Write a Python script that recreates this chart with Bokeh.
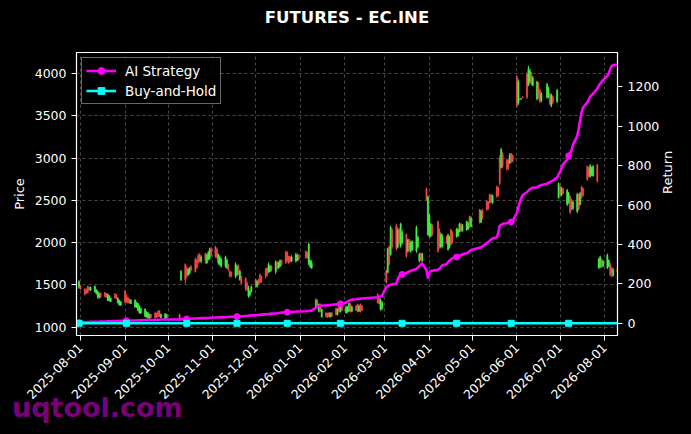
import pandas as pd
from math import pi
from bokeh.plotting import figure
from bokeh.models import (ColumnDataSource, Range1d, LinearAxis, FixedTicker,
                          DatetimeTickFormatter, Legend, LegendItem)
from bokeh.embed import file_html
from bokeh.resources import INLINE

# ---------------- data ----------------
# trading-day segments (continuous contract, with exchange holidays removed)
segments = [("2025-07-31", "2025-09-30"), ("2025-10-09", "2026-01-09"),
            ("2026-01-12", "2026-02-27"), ("2026-03-02", "2026-05-29"),
            ("2026-06-01", "2026-06-29"), ("2026-06-30", "2026-07-27"),
            ("2026-07-28", "2026-08-10")]
holidays = ["2026-01-01", "2026-01-02", "2026-02-16", "2026-02-17", "2026-02-18",
            "2026-02-19", "2026-02-20", "2026-02-23", "2026-04-06", "2026-05-01",
            "2026-05-04", "2026-05-05", "2026-06-19"]

o_a = [1470,1490, 1450,1440,1480,1470,1440, 1420,1400,1360,1345,1400, 1410,1395,1320,1310,1305,
       1395,1380,1290,1265,1260, 1430,1380,1350,1330,1280, 1240,1235,1200,1170,1165,
       1130,1120,1110,1105,1150, 1170,1165,1190,1195,1115, 1105,1110]
h_a = [1555,1500, 1460,1457,1492,1485,1480, 1492,1450,1433,1410,1410, 1415,1405,1398,1380,1350,
       1398,1390,1350,1325,1310, 1433,1390,1355,1340,1330, 1327,1300,1285,1260,1230,
       1221,1190,1174,1160,1160, 1174,1170,1197,1200,1160, 1162,1155]
l_a = [1455,1445, 1374,1390,1400,1430,1430, 1410,1390,1339,1339,1350, 1355,1350,1310,1303,1300,
       1339,1335,1280,1256,1255, 1280,1290,1280,1280,1275, 1232,1230,1190,1162,1160,
       1115,1115,1103,1103,1105, 1103,1110,1115,1120,1110, 1103,1105]
c_a = [1540,1450, 1390,1405,1410,1440,1470, 1485,1440,1420,1400,1360, 1365,1355,1390,1370,1345,
       1345,1340,1345,1320,1300, 1300,1300,1290,1285,1320, 1320,1290,1280,1250,1220,
       1215,1180,1170,1150,1115, 1110,1120,1125,1130,1150, 1160,1150]

o_b = [1150,1560, 1740,1700,1620,1640,1720, 1800,1790,1850,1860,1780, 1870,1760,1800,1820,1930,
       1950,1920,1760,1740,1720, 1720,1700,1740,1660,1650, 1600,1620,1720,1560,1600,
       1580,1520,1370,1380,1420, 1560,1480,1560,1620,1600, 1680,1700,1650,1660,1720,
       1660,1770,1700,1720,1790, 1890,1880,1840,1830,1780, 1780,1790,1850, 1900,1880,1750,1720,1700]
h_b = [1160,1675, 1755,1720,1700,1710,1730, 1823,1810,1870,1875,1850, 1880,1870,1900,1940,1945,
       1965,1940,1870,1850,1820, 1845,1810,1750,1670,1660, 1765,1740,1740,1680,1610,
       1590,1540,1490,1440,1490, 1575,1560,1570,1635,1610, 1700,1705,1765,1740,1730,
       1790,1780,1775,1800,1800, 1905,1900,1845,1840,1850, 1880,1870,1860, 1905,1890,2000,1800,1790]
l_b = [1100,1545, 1515,1580,1610,1625,1660, 1645,1690,1750,1765,1760, 1750,1750,1790,1800,1840,
       1820,1810,1740,1730,1705, 1705,1690,1660,1590,1590, 1580,1600,1620,1550,1500,
       1430,1430,1350,1360,1410, 1470,1470,1500,1515,1525, 1575,1600,1645,1650,1660,
       1630,1680,1690,1710,1730, 1750,1770,1750,1765,1770, 1765,1780,1790, 1810,1810,1730,1700,1690]
c_b = [1110,1660, 1560,1600,1680,1700,1680, 1660,1700,1770,1780,1830, 1790,1850,1880,1920,1860,
       1840,1830,1860,1830,1800, 1830,1790,1680,1600,1610, 1740,1720,1640,1660,1520,
       1460,1450,1460,1420,1480, 1490,1540,1510,1530,1540, 1600,1620,1740,1720,1680,
       1770,1700,1760,1790,1740, 1760,1790,1760,1780,1830, 1860,1850,1800, 1820,1830,1980,1790,1760]

o_c = [1230,1310,1190,1270,1120, 1170,1165,1170,1120,1170, 1220,1150,1270,1180,1250,
       1170,1180,1190,1270,1190, 1250,1270,1190,1270,1250, 1390,1340,1210,1220]
h_c = [1340,1330,1280,1280,1220, 1175,1170,1175,1175,1175, 1232,1225,1280,1275,1260,
       1256,1250,1292,1285,1255, 1260,1280,1265,1280,1260, 1398,1350,1340,1310]
l_c = [1220,1230,1174,1180,1115, 1115,1110,1115,1115,1120, 1138,1140,1174,1175,1190,
       1162,1170,1180,1174,1180, 1190,1174,1180,1174,1190, 1280,1270,1197,1200]
c_c = [1320,1250,1270,1200,1210, 1130,1120,1125,1165,1130, 1150,1210,1190,1260,1200,
       1240,1230,1280,1200,1240, 1200,1190,1250,1190,1200, 1290,1280,1320,1290]

o_d = [1670,1650,1950,1860,2150, 2200,1950,2150,1960,2000, 2100,1900,2040,1900,1920,
       1900,1950,1790,1870,1790, 2640,2100,2080,2080,2200, 2250,2150,1950,1960,
       2070,1920,1950,2150,2120, 2070,2080,2130,2220,2140, 2150,2160,2310,2190,
       2390,2240,2380, 2490,2480,2570,2560,2470, 2660,2650,3000,2890,3050, 2980,2970,2940,3050,3030]
h_d = [1680,1940,1965,2200,2170, 2225,2180,2170,2235,2150, 2105,2045,2045,2020,2030,
       2200,2080,1880,1880,1880, 2650,2555,2340,2235,2220, 2260,2170,2120,2100,
       2080,2105,2080,2165,2140, 2175,2170,2235,2230,2220, 2260,2250,2320,2310,
       2400,2390,2395, 2495,2490,2580,2575,2570, 2675,2665,3030,3120,3070, 2990,2985,3060,3060,3040]
l_d = [1515,1633,1728,1847,1930, 1905,1930,1980,1940,1980, 1823,1880,1890,1880,1900,
       1880,1930,1765,1780,1770, 2500,2080,2060,2060,2080, 1880,1930,1930,1940,
       1985,1905,1930,1965,1990, 2060,2070,2120,2125,2130, 2140,2150,2175,2180,
       2225,2230,2280, 2380,2385,2460,2465,2460, 2530,2540,2675,2875,2880, 2850,2860,2930,2940,2950]
c_d = [1530,1930,1750,2180,1950, 1930,2150,2000,2220,2120, 1840,2030,1920,2000,2010,
       2180,2060,1860,1800,1870, 2510,2540,2320,2220,2100, 1900,1950,2100,2080,
       1995,2090,2060,1980,2000, 2160,2150,2220,2140,2200, 2250,2230,2190,2290,
       2240,2370,2300, 2390,2400,2470,2480,2550, 2550,2560,2700,3100,2900, 2870,2890,3040,2960,2960]

o_e = [3960,3650,3700,3700,3720, 3990,3860,3900,4000,3860, 3700,3880,3800,3680,
       3720,3730,3760,3620,3720, 3670]
h_e = [3970,3930,3710,3710,3730, 4010,4090,4060,4020,3970, 3915,3900,3820,3780,
       3890,3840,3770,3760,3740, 3820]
l_e = [3600,3630,3680,3690,3710, 3700,3850,3880,3860,3850, 3680,3700,3650,3660,
       3700,3710,3620,3600,3640, 3650]
c_e = [3620,3900,3690,3705,3715, 3720,4050,4030,3880,3950, 3900,3720,3670,3760,
       3870,3820,3640,3740,3660, 3800]

o_f = [2530, 2670,2560,2640, 2450,2480,2550,2500,2400, 2370,2560,2450,2660,2640,
       2900,2880,2780,2800,2790, 2920]
h_f = [2710, 2675,2660,2650, 2635,2600,2555,2520,2500, 2590,2580,2600,2670,2650,
       2910,2895,2930,2900,2915, 2930]
l_f = [2520, 2555,2550,2570, 2435,2460,2340,2380,2390, 2350,2380,2440,2520,2540,
       2730,2770,2770,2790,2780, 2710]
c_f = [2700, 2570,2640,2580, 2620,2580,2360,2400,2480, 2570,2400,2580,2540,2560,
       2750,2790,2910,2880,2900, 2730]

o_g = [1700,1720,1800,1720, 1700,1720,1750,1700,1610, 1690]
h_g = [1820,1845,1810,1790, 1870,1800,1760,1720,1700, 1700]
l_g = [1690,1700,1700,1710, 1690,1710,1600,1590,1600, 1630]
c_g = [1800,1830,1720,1780, 1850,1790,1620,1640,1680, 1650]

# AI strategy cumulative return (right axis)
ai_a = [3,4,5,5,6,6,7,7,8,8, 8,9,9,9,10,10,10,11,11,11, 12,12,12,13,13,13,14,14,14,15,
        15,15,16,16,16,17,17,17,18,18, 18,19,19,19]
ai_b = [20,21, 21,22,22,23,23, 24,24,25,25,26, 26,27,27,28,28, 29,29,30,30,31, 31,32,32,33,33,
        34,34,35,35,36, 37,37,38,39,40, 40,41,42,43,44, 45,46,47,48,49, 50,51,52,53,54,
        55,56,57,57,58, 59,60,60, 61,62,62,63,64]
ai_c = [78,85,88,89,90, 90,91,92,93,94, 96,97,98,99,100, 104,110,114,117,120,
        122,123,124,125,126, 132,134,137,140]
ai_d = [183,190,194,196,198, 200,225,238,244,248, 255,259,263,266,268, 276,283,290,298,304,
        270,227,255,265,267, 272,276,285,295, 300,310,318,324,330, 336,340,343,346,350,
        355,360,366,372, 383,386,390, 405,412,418,425,430, 436,460,495,500,505,
        508,510,512,514,520]
ai_e = [560,590,614,635,650, 665,673,680,684,688, 690,694,698,702, 708,712,716,720,724, 740]
ai_f = [755, 766,785,805, 830,850,862,876,905, 950,987,1030,1070,1095,
        1121,1135,1150,1158,1165, 1190]
ai_g = [1205,1215,1225,1235, 1256,1270,1290,1306,1310, 1312]

# marker dates (every ~25 sessions)
mark_dates = ["2025-07-31", "2025-09-02", "2025-10-14", "2025-11-18", "2025-12-23",
              "2026-01-29", "2026-03-13", "2026-04-20", "2026-05-28", "2026-07-07"]

price_ticks = [1000, 1500, 2000, 2500, 3000, 3500, 4000]
return_ticks = [0, 200, 400, 600, 800, 1000, 1200]
date_ticks = ["2025-08-01", "2025-09-01", "2025-10-01", "2025-11-01", "2025-12-01",
              "2026-01-01", "2026-02-01", "2026-03-01", "2026-04-01", "2026-05-01",
              "2026-06-01", "2026-07-01", "2026-08-01"]
title_text = "FUTURES - EC.INE"
watermark = "uqtool.com"

# ---------------- assemble ----------------
dates = []
for s, e in segments:
    for d in pd.bdate_range(s, e):
        if d.strftime("%Y-%m-%d") not in holidays:
            dates.append(d)

opens = o_a + o_b + o_c + o_d + o_e + o_f + o_g
highs = h_a + h_b + h_c + h_d + h_e + h_f + h_g
lows = l_a + l_b + l_c + l_d + l_e + l_f + l_g
closes = c_a + c_b + c_c + c_d + c_e + c_f + c_g
ai_ret = ai_a + ai_b + ai_c + ai_d + ai_e + ai_f + ai_g
bh_ret = [0.0] * len(dates)
assert len(dates) == len(opens) == len(highs) == len(lows) == len(closes) == len(ai_ret)

UP, DOWN = "#45f045", "#f04848"
colors = [UP if c >= o else DOWN for o, c in zip(opens, closes)]
src = ColumnDataSource(dict(date=dates, high=highs, low=lows,
                            top=[max(o, c) for o, c in zip(opens, closes)],
                            bottom=[min(o, c) for o, c in zip(opens, closes)],
                            color=colors))

date_str = [d.strftime("%Y-%m-%d") for d in dates]
mk_x = [pd.Timestamp(m) for m in mark_dates]
mk_ai = [ai_ret[date_str.index(m)] for m in mark_dates]
mk_bh = [bh_ret[date_str.index(m)] for m in mark_dates]

FONT = "DejaVu Sans"
p = figure(width=689, height=432, x_axis_type="datetime",
           x_range=Range1d(pd.Timestamp("2025-07-29 05:00"), pd.Timestamp("2026-08-10 01:00")),
           y_range=Range1d(902, 4248),
           output_backend="svg", toolbar_location=None,
           background_fill_color="black", border_fill_color="black",
           outline_line_color="white", outline_line_width=1.2,
           min_border_left=76, min_border_right=72, min_border_top=52, min_border_bottom=97)
p.extra_y_ranges = {"ret": Range1d(-62, 1374)}

# trailing empty line gives the title box extra height so the text sits near the top edge
p.title.text = title_text + "\n"
p.title.align = "center"
p.title.vertical_align = "top"
p.title.text_color = "white"
p.title.text_font = FONT
p.title.text_font_size = "16.5px"
p.title.text_font_style = "bold"
p.title.standoff = 9

day_ms = 86400000
p.segment(x0="date", y0="high", x1="date", y1="low", color="color", line_width=1, source=src)
p.vbar(x="date", width=day_ms * 0.85, top="top", bottom="bottom",
       fill_color="color", line_color="color", line_width=0.5, source=src)

ai_line = p.line(dates, ai_ret, color="#ff00ff", line_width=2.6, y_range_name="ret")
bh_line = p.line(dates, bh_ret, color="#00ffff", line_width=2.6, y_range_name="ret")
ai_mk = p.scatter(mk_x, mk_ai, marker="circle", size=6, color="#ff00ff", y_range_name="ret")
bh_mk = p.scatter(mk_x, mk_bh, marker="square", size=6, color="#00ffff", y_range_name="ret")

# axes
p.xaxis.ticker = FixedTicker(ticks=[pd.Timestamp(t).value // 10**6 for t in date_ticks])
fmt = "%Y-%m-%d"
p.xaxis.formatter = DatetimeTickFormatter(milliseconds=fmt, seconds=fmt, minsec=fmt, minutes=fmt,
                                          hourmin=fmt, hours=fmt, days=fmt, months=fmt, years=fmt)
p.xaxis.major_label_orientation = pi / 4
p.yaxis.ticker = FixedTicker(ticks=price_ticks)
p.yaxis.axis_label = "Price"

right = LinearAxis(y_range_name="ret", ticker=FixedTicker(ticks=return_ticks), axis_label="Return")
right.axis_label_orientation = pi / 2
p.add_layout(right, "right")

for ax in p.xaxis + p.yaxis + [right]:
    ax.axis_line_color = "white"
    ax.major_tick_line_color = "white"
    ax.minor_tick_line_color = None
    ax.major_tick_out = 5
    ax.major_tick_in = 0
    ax.major_label_text_color = "white"
    ax.major_label_text_font = FONT
    ax.major_label_text_font_size = "12.5px"
    ax.axis_label_text_color = "white"
    ax.axis_label_text_font = FONT
    ax.axis_label_text_font_size = "13px"
    ax.axis_label_text_font_style = "normal"

for g in (p.xgrid, p.ygrid):
    g.grid_line_color = "#5a5a5a"
    g.grid_line_dash = "3 3"
    g.grid_line_width = 0.8

legend = Legend(items=[LegendItem(label="AI Strategy", renderers=[ai_line, ai_mk]),
                       LegendItem(label="Buy-and-Hold", renderers=[bh_line, bh_mk])],
                location="top_left")
legend.background_fill_color = "black"
legend.background_fill_alpha = 0.85
legend.border_line_color = "#d0d0d0"
legend.border_line_width = 1
legend.label_text_color = "white"
legend.label_text_font = FONT
legend.label_text_font_size = "13.5px"
legend.glyph_width = 30
legend.glyph_height = 17
legend.label_standoff = 9
legend.spacing = 3
legend.padding = 4
legend.margin = 5
p.add_layout(legend)

# watermark sits below the frame (over the date labels), where center annotations are clipped,
# so it is placed as a text overlay on the page
wm_html = ('<div style="position:absolute;left:12px;top:392px;font-family:\'DejaVu Sans\';'
           'font-weight:bold;font-size:27px;line-height:normal;color:#800080;opacity:0.95;'
           'z-index:10;pointer-events:none;white-space:nowrap;">' + watermark + '</div>')

html = file_html(p, INLINE, title=title_text)
html = html.replace("</head>", "<style>html,body{background:#000000;}</style></head>", 1)
html = html.replace("</body>", wm_html + "</body>", 1)
open("out.html", "w").write(html)
